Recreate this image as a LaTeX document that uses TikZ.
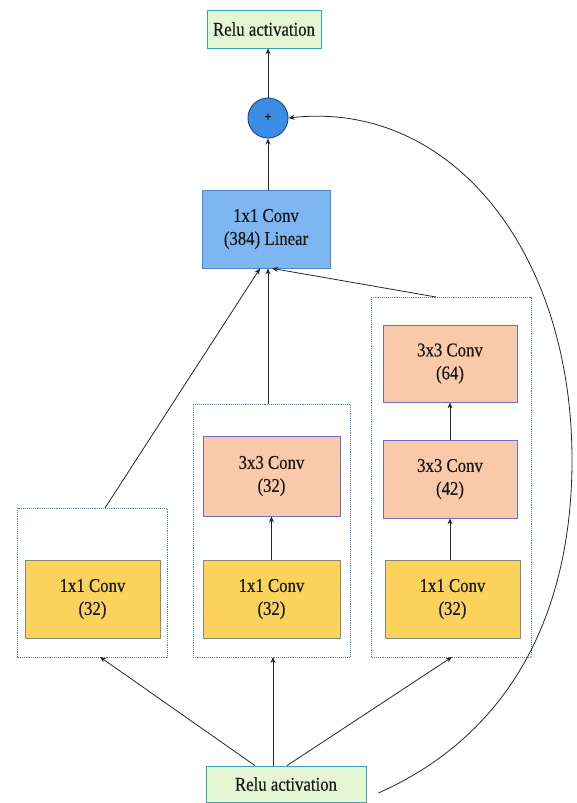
\documentclass[tikz,border=0pt]{standalone}
\usepackage{fontspec}
\setmainfont{Liberation Serif}
\newfontfamily\diagfont[FakeStretch=0.86,FakeBold=0.4]{Liberation Serif}
\usetikzlibrary{arrows.meta}
\definecolor{relug}{HTML}{E4F6D4}
\definecolor{relub}{HTML}{3FA3B8}
\definecolor{linf}{HTML}{7DB6F0}
\definecolor{linb}{HTML}{4F86D0}
\definecolor{plusf}{HTML}{3A8CE4}
\definecolor{plusb}{HTML}{1F4E8C}
\definecolor{yelf}{HTML}{FBD35C}
\definecolor{yelb}{HTML}{8A8A7A}
\definecolor{orf}{HTML}{F9C9AA}
\definecolor{orb}{HTML}{6E6EC8}
\definecolor{grpb}{HTML}{4F82CC}
\begin{document}
\begin{tikzpicture}[x=1pt,y=-1pt,
  txt/.style={font=\diagfont\fontsize{19.5}{23}\selectfont, align=center, text=black!90},
  relubox/.style={txt, draw=relub, fill=relug, line width=0.8pt},
  linbox/.style={txt, draw=linb, fill=linf, line width=0.8pt},
  yelbox/.style={txt, draw=yelb, fill=yelf, line width=0.8pt},
  orbox/.style={txt, draw=orb, fill=orf, line width=0.8pt},
  grp/.style={draw=grpb, densely dotted, line width=0.9pt},
  arr/.style={-{Stealth[length=6pt,width=5pt]}, line width=0.8pt, black!85}]
\useasboundingbox (0,0) rectangle (576,803);
% groups
\draw[grp] (17,508) rectangle (167,657);
\draw[grp] (193,404) rectangle (350,657);
\draw[grp] (371,297) rectangle (531,657);
\coordinate (g1t) at (105,508);
\coordinate (g1b) at (100,657);
\coordinate (g2t) at (268,404);
\coordinate (g2b) at (273,657);
\coordinate (g3t) at (436,297);
\coordinate (g3b) at (452,657);
% top nodes
\node[relubox, minimum width=114pt, minimum height=38pt] (relutop) at (264,29) {Relu activation};
\node[circle, draw=plusb, fill=plusf, line width=1pt, minimum size=40pt, inner sep=0pt, font=\bfseries\fontsize{13}{13}\selectfont] (plus) at (268,118) {+};
\node[linbox, minimum width=128pt, minimum height=78pt] (lin) at (266,229) {1x1 Conv\\(384) Linear};
% left branch
\node[yelbox, minimum width=135pt, minimum height=78pt] (y1) at (92.5,599) {1x1 Conv\\(32)};
% middle branch
\node[orbox, minimum width=137pt, minimum height=80pt] (o2) at (271.5,476) {3x3 Conv\\(32)};
\node[yelbox, minimum width=137pt, minimum height=78pt] (y2) at (271.5,599) {1x1 Conv\\(32)};
% right branch
\node[orbox, minimum width=134pt, minimum height=77pt] (o3a) at (450,363.5) {3x3 Conv\\(64)};
\node[orbox, minimum width=134pt, minimum height=78pt] (o3b) at (450,479) {3x3 Conv\\(42)};
\node[yelbox, minimum width=135pt, minimum height=78pt] (y3) at (452.5,599) {1x1 Conv\\(32)};
% bottom
\node[relubox, minimum width=160pt, minimum height=36pt] (relubot) at (286,784) {Relu activation};
% arrows
\draw[arr] (relubot.north -| 255,0) -- (g1b);
\draw[arr] (relubot.north -| g2b) -- (g2b);
\draw[arr] (relubot.north -| 287,0) -- (g3b);
\draw[arr] (y2.north) -- (o2.south);
\draw[arr] (y3.north -| o3b.south) -- (o3b.south);
\draw[arr] (o3b.north) -- (o3a.south);
\draw[arr] (g1t) -- ([xshift=-6pt]lin.south);
\draw[arr] (g2t) -- (lin.south -| g2t);
\draw[arr] (g3t) -- ([xshift=6pt]lin.south);
\draw[arr] (lin.north -| plus.south) -- (plus.south);
\draw[arr] (plus.north) -- (relutop.south -| plus.north);
\draw[arr] ([xshift=12pt,yshift=-9pt]relubot.east) .. controls (520,730) and (572,600) .. (572,460) .. controls (572,250) and (450,100) .. (plus.east);
\end{tikzpicture}
\end{document}
